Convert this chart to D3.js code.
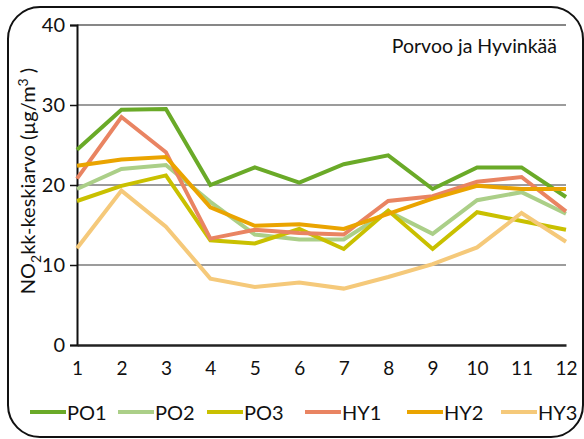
<!DOCTYPE html>
<html>
<head>
<meta charset="utf-8">
<script src="https://cdn.jsdelivr.net/npm/d3@7"></script>
<style>
  body { margin: 0; background: #fff; }
  svg text { font-family: Lato, "Open Sans", sans-serif; fill: #111; }
</style>
</head>
<body>
<div id="chart"></div>
<script>
// Data
const months = [1, 2, 3, 4, 5, 6, 7, 8, 9, 10, 11, 12];
const yTicks = [0, 10, 20, 30, 40];
const seriesNames = ["PO1", "PO2", "PO3", "HY1", "HY2", "HY3"];
const seriesColors = ["#6aaa28", "#abcf88", "#c9c000", "#e98462", "#eaa400", "#f5c97a"];

const PO1 = [24.4, 29.4, 29.5, 20.0, 22.2, 20.3, 22.6, 23.7, 19.5, 22.2, 22.2, 18.5];
const PO2 = [19.5, 22.0, 22.5, 17.9, 13.8, 13.2, 13.2, 16.7, 13.9, 18.1, 19.1, 16.4];
const PO3 = [18.0, 19.9, 21.2, 13.1, 12.7, 14.5, 12.0, 16.8, 12.0, 16.6, 15.5, 14.4];
const HY1 = [20.8, 28.5, 24.1, 13.3, 14.4, 14.0, 13.8, 18.0, 18.6, 20.4, 21.0, 16.7];
const HY2 = [22.4, 23.2, 23.5, 17.2, 14.9, 15.1, 14.5, 16.4, 18.3, 19.9, 19.5, 19.5];
const HY3 = [12.1, 19.3, 14.8, 8.3, 7.25, 7.8, 7.05, 8.5, 10.1, 12.2, 16.5, 12.9];
const seriesValues = [PO1, PO2, PO3, HY1, HY2, HY3];

const W = 584, H = 439;
const plot = { left: 77, right: 566, top: 25, bottom: 345 };

const svg = d3.select("#chart")
    .append("svg")
    .attr("width", W)
    .attr("height", H);

// Rounded frame
svg.append("rect")
    .attr("x", 8).attr("y", 7)
    .attr("width", 575).attr("height", 430)
    .attr("rx", 32).attr("ry", 32)
    .attr("fill", "none")
    .attr("stroke", "#111")
    .attr("stroke-width", 2);

const x = d3.scaleLinear().domain([1, 12]).range([plot.left, plot.right]);
const y = d3.scaleLinear().domain([0, 40]).range([plot.bottom, plot.top]);

// Gridlines
svg.append("g")
    .selectAll("line")
    .data(yTicks.filter(d => d > 0))
    .enter()
    .append("line")
    .attr("x1", plot.left).attr("x2", plot.right)
    .attr("y1", d => y(d)).attr("y2", d => y(d))
    .attr("stroke", d => d === 40 ? "#111" : "#3a3a3a")
    .attr("stroke-width", 1.2);

// Y axis
const yAxis = svg.append("g")
    .attr("transform", `translate(${plot.left},0)`)
    .call(d3.axisLeft(y).tickValues(yTicks).tickSize(7).tickPadding(5).tickFormat(d3.format("d")));
yAxis.select(".domain").attr("stroke", "#111").attr("stroke-width", 2);
yAxis.selectAll(".tick line").attr("stroke", "#111").attr("stroke-width", 1.5);
yAxis.selectAll("text")
    .style("font-size", "20px")
    .style("font-family", "Lato, sans-serif")
    .attr("fill", "#111");

// X axis
const xAxis = svg.append("g")
    .attr("transform", `translate(0,${plot.bottom})`)
    .call(d3.axisBottom(x).tickValues(months).tickSize(0).tickPadding(17).tickFormat(d3.format("d")));
xAxis.select(".domain").attr("stroke", "#222").attr("stroke-width", 2.5);
xAxis.selectAll("text")
    .style("font-size", "19px")
    .style("font-family", "Lato, sans-serif")
    .attr("fill", "#111");

// Lines
const line = d3.line()
    .x((d, i) => x(months[i]))
    .y(d => y(d));

svg.append("g")
    .selectAll("path")
    .data(seriesValues)
    .enter()
    .append("path")
    .attr("d", d => line(d))
    .attr("fill", "none")
    .attr("stroke", (d, i) => seriesColors[i])
    .attr("stroke-width", 4)
    .attr("stroke-linejoin", "miter");

// Title
svg.append("text")
    .attr("x", 557).attr("y", 53)
    .attr("text-anchor", "end")
    .style("font-size", "19.5px")
    .text("Porvoo ja Hyvinkää");

// Y axis label
const yLabel = svg.append("text")
    .attr("transform", `translate(35,${181}) rotate(-90)`)
    .attr("text-anchor", "middle")
    .style("font-size", "20px");
yLabel.append("tspan").text("NO");
yLabel.append("tspan").attr("dy", 6).style("font-size", "14px").text("2");
yLabel.append("tspan").attr("dy", -6).text("kk-keskiarvo  (µg/m");
yLabel.append("tspan").attr("dy", -7).style("font-size", "14px").text("3");
yLabel.append("tspan").attr("dy", 7).text(" )");

// Legend
const legendX = [30, 118, 207, 305, 407, 501];
const legend = svg.append("g")
    .selectAll("g")
    .data(seriesNames)
    .enter()
    .append("g")
    .attr("transform", (d, i) => `translate(${legendX[i]},412)`);
legend.append("line")
    .attr("x1", 0).attr("x2", 36)
    .attr("y1", 0).attr("y2", 0)
    .attr("stroke", (d, i) => seriesColors[i])
    .attr("stroke-width", 4);
legend.append("text")
    .attr("x", 37).attr("y", 7.5)
    .style("font-size", "20px")
    .text(d => d);
</script>
</body>
</html>
